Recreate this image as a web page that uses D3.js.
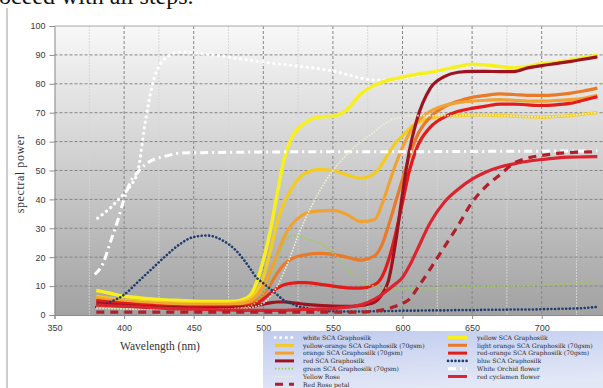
<!DOCTYPE html>
<html><head><meta charset="utf-8">
<script src="https://cdn.jsdelivr.net/npm/d3@7/dist/d3.min.js"></script>
<style>body{margin:0;background:#fff;} svg{display:block;}</style>
</head><body>
<svg id="chart" width="603" height="388"></svg>
<script>
// ---------- DATA ----------
const wl = [380,390,400,410,420,430,440,450,460,470,480,490,495,500,505,510,515,520,525,530,540,550,560,570,580,585,590,595,600,605,610,620,630,640,650,660,670,680,690,700,710,720,730,740];
const yellowSCA      = [8.5,7.5,6.5,6,5.5,5.2,5,4.8,4.7,4.7,4.8,6.5,11,19,29,42,54,61,64.5,66.5,68.5,68.8,71,76.5,79.5,80.5,81.3,81.8,82.3,82.8,83.3,84,85,86,86.8,86.5,86,85.5,86,87,87.5,88.2,89,90];
const yellowOrange   = [6.5,5.8,5.2,4.8,4.5,4.3,4.1,4,4,4,4.2,5.5,8,13,22,32,39,43.5,47,49,50.3,50,48.5,47.3,49,52,56,59.5,62,64.5,66.3,68,68.8,69,69.2,69.2,69,68.8,68.6,68.5,68.7,69,69.5,70];
const lightOrange    = [5.5,5,4.5,4.1,3.8,3.5,3.3,3.2,3.2,3.2,3.3,4,5,7,10.5,14.5,17.5,19.3,20.3,20.8,21.3,21,20,19,20.5,24,31,39,47,55,61.5,68.5,72,74,75.3,76,76.5,76.3,76,76,76.2,76.7,77.5,78.5];
const orangeSCA      = [6,5.3,4.8,4.4,4.1,3.9,3.7,3.6,3.6,3.6,3.8,4.8,6.5,10,15,21,27,31,33.5,35,36,36.2,34.8,32.3,33,38,45,52,58,63,66.5,70.5,72.5,73.5,74,74.3,74.5,74.3,74,74,74.2,74.5,75,76];
const redOrange      = [5,4.5,4,3.6,3.3,3,2.8,2.7,2.7,2.7,2.8,3.3,4,5.5,7.5,9.3,10.5,11,11.2,11.2,10.7,10,9.4,9.3,10.5,13,19,28,39,50,57.5,65,68.5,70.5,71.5,72.3,73,73,72.7,72.5,72.7,73.2,74.3,75.5];
const redSCA         = [4,3.6,3.3,3,2.8,2.6,2.5,2.4,2.4,2.4,2.5,2.8,3.2,3.7,4.2,4.5,4.5,4.3,4,3.7,3.3,3.1,3,3.3,4.5,7,12,25,42,57,67,78.5,82.5,84,84.3,84.3,84.2,84.2,85.5,86.3,87,87.7,88.5,89.3];
const blueSCA        = [2.8,4.5,7,11.5,16,20.5,24.5,27,27.5,26,22.5,16.5,13,11,9,7,5,4,3,2.5,1.6,1.3,1.2,1.2,1.3,1.3,1.4,1.4,1.5,1.5,1.5,1.6,1.6,1.7,1.7,1.8,1.8,1.9,1.9,2,2.1,2.2,2.4,2.8];
const greenSCA       = [2.8,2.5,2.3,2.1,2,1.9,1.9,1.9,2,2,2.2,3,4.5,7.5,12,19,25,27.5,27.5,26.5,25,21.5,16,11.5,10,9.5,9.3,9.3,9.3,9.3,9.3,9.4,9.5,9.6,9.8,9.9,10,10.1,10.2,10.3,10.5,10.8,11.2,11.5];
const yellowRose     = [2.3,2.2,2.1,2,2,2,2,2,2,2.1,2.2,2.5,3,4,6.5,10,15,21,27.5,33,42.5,50,55.5,60,63.5,65.5,67,68,68.5,69,69,69,69,69,69.2,69.2,69,68.8,68.6,68.5,68.7,69,69.5,70];
const redCyclamen    = [3.5,3.2,3,2.8,2.5,2.3,2.1,2,1.9,1.8,1.7,1.6,1.6,1.6,1.6,1.6,1.6,1.7,1.8,1.9,2,2.2,2.7,3.5,5.5,7,8.8,10.8,13,17,22,32,39,43.5,47,49.5,51.2,52.3,53.2,53.8,54.3,54.6,54.7,54.8];
const redRose        = [1,1,1,1,1,1,1,1,1,1,1,1,1,1,1,1,1,1,1,1,1,1,1,1,1.3,1.7,2.2,3,4,5.5,8.8,16,23.5,31,39,44.5,48.5,52.5,54.3,55.2,55.8,56.2,56.4,56.5];

const wlWhite  = [381,385,390,395,400,405,410,415,420,425,430,440,450,460,470,480,490,500,510,520,530,540,550,560,570,580,590,600,620,640,660,680,700,720,740];
const whiteSCA = [33.5,35,37,39.5,42,45,50,66,79,86,89,91,90.7,90.2,89.6,88.9,88.2,87.5,86.9,86.4,85.8,85.2,84.4,83.2,82,81.3,81.5,82,84,86,86.5,85.5,87,88.2,90];
const wlOrchid = [379,385,390,395,400,405,410,415,420,430,440,460,500,550,600,650,700,740];
const whiteOrchid = [14,18,25,32,40,46.5,49.5,52,53.5,55,56,56.2,56.4,56.5,56.5,56.6,56.7,56.8];

const xTicks = [350,400,450,500,550,600,650,700];
const yTicks = [0,10,20,30,40,50,60,70,80,90,100];

// ---------- SERIES (drawing order = Excel series order) ----------
const series = [
  {name:"white SCA Graphosilk", x:wlWhite, y:whiteSCA, color:"#ffffff", w:3.2, dash:"0.1 5.5", cap:"round"},
  {name:"yellow SCA Graphosilk", x:wl, y:yellowSCA, color:"#f7f020", w:3.5},
  {name:"yellow-orange SCA Graphosilk (70gsm)", x:wl, y:yellowOrange, color:"#f3cc22", w:3.2},
  {name:"light orange SCA Graphosilk (70gsm)", x:wl, y:lightOrange, color:"#e97a2a", w:3.2},
  {name:"orange SCA Graphosilk (70gsm)", x:wl, y:orangeSCA, color:"#f0a333", w:3.2},
  {name:"red-orange SCA Graphosilk (70gsm)", x:wl, y:redOrange, color:"#e31b1b", w:3.2},
  {name:"red SCA Graphosilk", x:wl, y:redSCA, color:"#9e1320", w:3.2},
  {name:"blue SCA Graphosilk", x:wl, y:blueSCA, color:"#1f3c6e", w:2.6, dash:"0.1 3.6", cap:"round"},
  {name:"green SCA Graphosilk (70gsm)", x:wl, y:greenSCA, color:"#9ccc55", w:1.8, dash:"1.5 1.8"},
  {name:"White Orchid flower", x:wlOrchid, y:whiteOrchid, color:"#ffffff", w:3, dash:"8 4 2 4"},
  {name:"Yellow Rose", x:wl, y:yellowRose, color:"#eef1d2", w:1.6, dash:"1.5 1.5"},
  {name:"red cyclamen flower", x:wl, y:redCyclamen, color:"#db2430", w:3.2},
  {name:"Red Rose petal", x:wl, y:redRose, color:"#b01f2a", w:3.2, dash:"8 6"}
];

// ---------- LAYOUT ----------
const svg = d3.select("#chart");
const x = d3.scaleLinear().domain([350,750]).range([54.5,611.3]);
const y = d3.scaleLinear().domain([0,100]).range([315,26]);

const defs = svg.append("defs");
const g1 = defs.append("linearGradient").attr("id","plotbg").attr("x1",0).attr("y1",0).attr("x2",0).attr("y2",1);
g1.append("stop").attr("offset","0%").attr("stop-color","#f8f8f8");
g1.append("stop").attr("offset","100%").attr("stop-color","#a2a2a2");
const g2 = defs.append("linearGradient").attr("id","legbg").attr("x1",0).attr("y1",0).attr("x2",0.3).attr("y2",1);
g2.append("stop").attr("offset","0%").attr("stop-color","#c0cbee");
g2.append("stop").attr("offset","100%").attr("stop-color","#e3e8f7");
defs.append("clipPath").attr("id","plotclip").append("rect")
  .attr("x",54.5).attr("y",20).attr("width",560).attr("height",296);

// page text and margin line
svg.append("text").attr("x",-1).attr("y",4).attr("font-family","Liberation Serif, Times New Roman, serif")
  .attr("font-size",24).attr("fill","#111").text("oceed with all steps.");
svg.append("line").attr("x1",7).attr("x2",7).attr("y1",8).attr("y2",388).attr("stroke","#9a9a9a").attr("stroke-width",1);

// plot background
svg.append("rect").attr("x",x(350)).attr("y",y(100)).attr("width",x(750)-x(350)).attr("height",y(0)-y(100)).attr("fill","url(#plotbg)");

// minor vertical grid (every 50, offset 25)
const minorX = d3.range(375,750,50);
svg.append("g").selectAll("line").data(minorX).join("line")
  .attr("x1",d=>x(d)).attr("x2",d=>x(d)).attr("y1",y(100)).attr("y2",y(0))
  .attr("stroke","#d6d6d6").attr("stroke-width",1).attr("stroke-dasharray","2 1").attr("opacity",0.9);
// major vertical grid
svg.append("g").selectAll("line").data(d3.range(400,750,50)).join("line")
  .attr("x1",d=>x(d)).attr("x2",d=>x(d)).attr("y1",y(100)).attr("y2",y(0))
  .attr("stroke","#858585").attr("stroke-width",1).attr("stroke-dasharray","3 2");
// horizontal grid
svg.append("g").selectAll("line").data(yTicks.filter(d=>d>0&&d<100)).join("line")
  .attr("x1",x(350)).attr("x2",603).attr("y1",d=>y(d)).attr("y2",d=>y(d))
  .attr("stroke","#858585").attr("stroke-width",1).attr("stroke-dasharray","3 2");
// top border
svg.append("line").attr("x1",x(350)).attr("x2",603).attr("y1",y(100)).attr("y2",y(100)).attr("stroke","#a8a8a8");

// axes
const yAxis = d3.axisLeft(y).tickValues(yTicks).tickSize(5).tickPadding(3);
const gy = svg.append("g").attr("transform",`translate(${x(350)},0)`).call(yAxis);
const xAxis = d3.axisBottom(x).tickValues(xTicks).tickSize(4).tickPadding(6);
const gx = svg.append("g").attr("transform",`translate(0,${y(0)})`).call(xAxis);
[gx,gy].forEach(g=>{
  g.select(".domain").attr("stroke","#8a8a8a");
  g.selectAll(".tick line").attr("stroke","#8a8a8a");
  g.selectAll("text").attr("font-family","Liberation Sans, Arial, sans-serif").attr("font-size",9).attr("fill","#3a3a3a");
});
gy.selectAll("text").attr("dx",-1);

// lines
const plot = svg.append("g").attr("clip-path","url(#plotclip)");
const line = d3.line().curve(d3.curveMonotoneX);
series.forEach(s=>{
  const pts = s.x.map((v,i)=>[x(v), y(s.y[i])]);
  plot.append("path").attr("d",line(pts)).attr("fill","none")
    .attr("stroke",s.color).attr("stroke-width",s.w)
    .attr("stroke-dasharray",s.dash||null)
    .attr("stroke-linecap",s.cap||"butt").attr("stroke-linejoin","round");
});

// axis titles
svg.append("text").attr("x",160).attr("y",350).attr("text-anchor","middle")
  .attr("font-family","Liberation Serif, Times New Roman, serif").attr("font-size",11.5).attr("fill","#333")
  .text("Wavelength (nm)");
svg.append("text").attr("transform","translate(24,174) rotate(-90)").attr("text-anchor","middle")
  .attr("font-family","Liberation Serif, Times New Roman, serif").attr("font-size",12).attr("letter-spacing",0.6).attr("fill","#333")
  .text("spectral power");

// legend
svg.append("rect").attr("x",263).attr("y",331).attr("width",345).attr("height",60).attr("fill","url(#legbg)");
const leg = svg.append("g");
const rowH = 7.8, row0 = 337.5;
series.forEach((s,i)=>{
  const col = i % 2, row = Math.floor(i/2);
  const lx = col===0 ? 275 : 448;
  const tx = col===0 ? 303 : 477;
  const cy = row0 + row*rowH;
  leg.append("line").attr("x1",lx).attr("x2",lx+19).attr("y1",cy).attr("y2",cy)
    .attr("stroke",s.color).attr("stroke-width",Math.min(s.w,3))
    .attr("stroke-dasharray",s.dash||null).attr("stroke-linecap",s.cap||"butt");
  leg.append("text").attr("x",tx).attr("y",cy+2.3)
    .attr("font-family","DejaVu Serif, serif").attr("font-size",6.1).attr("fill","#2a2a2a")
    .text(s.name);
});
</script>
</body></html>
